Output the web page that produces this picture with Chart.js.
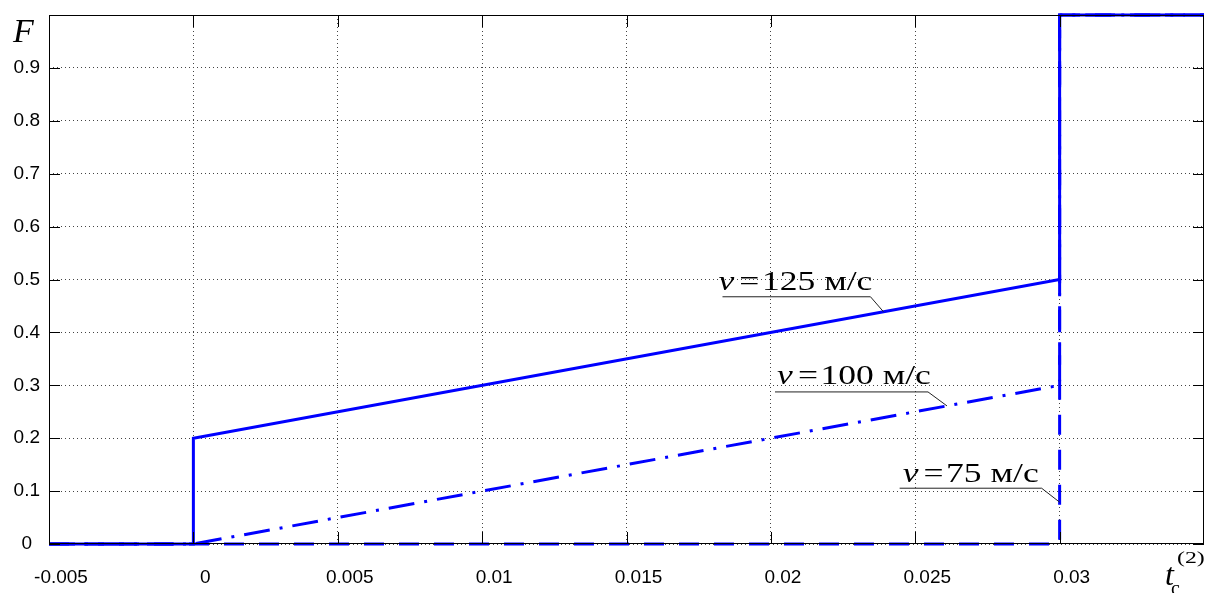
<!DOCTYPE html>
<html>
<head>
<meta charset="utf-8">
<script src="https://cdn.jsdelivr.net/npm/chart.js@4.4.1/dist/chart.umd.min.js"></script>
<style>
body { margin: 0; background: #fff; }
#wrap { width: 1206px; height: 593px; }
</style>
</head>
<body>
<div id="wrap"><canvas id="chart"></canvas></div>
<script>
// axis ticks
var xTickValues = [-0.005, 0, 0.005, 0.01, 0.015, 0.02, 0.025, 0.03];
var xTickLabels = ['-0.005', '0', '0.005', '0.01', '0.015', '0.02', '0.025', '0.03'];
var yTickValues = [0, 0.1, 0.2, 0.3, 0.4, 0.5, 0.6, 0.7, 0.8, 0.9, 1];
var yTickLabels = ['0', '0.1', '0.2', '0.3', '0.4', '0.5', '0.6', '0.7', '0.8', '0.9', ''];

// F(t) for v = 125 m/s
var t125 = [-0.005, 0, 0, 0.03, 0.03, 0.035];
var f125 = [0, 0, 0.2, 0.5, 1, 1];
// v = 100 m/s
var t100 = [-0.005, 0, 0.03, 0.03, 0.035];
var f100 = [0, 0, 0.3, 1, 1];
// v = 75 m/s
var t75 = [-0.005, 0.03, 0.03, 0.035];
var f75 = [0, 0, 1, 1];

var speeds = ['125', '100', '75'];
// where each label's leader touches its curve
var leaderT = [0.0239, 0.0261, 0.03];
var leaderF = [0.439, 0.261, 0.079];

function pts(xs, ys) {
    return xs.map(function(x, i) { return {x: x, y: ys[i]}; });
}

// pixel layout of the labels relative to the leader point
var labelBox = [
    {ex: -13, ey: -15, len: 148, tx: -165, ty: -7},
    {ex: -19, ey: -14, len: 153, tx: -170, ty: -8},
    {ex: -18, ey: -14, len: 142, tx: -157, ty: -6}
];

function drawSpeed(ctx, left, base, speed) {
    ctx.save();
    ctx.translate(left, base);
    ctx.scale(1.27, 1);
    ctx.fillStyle = '#000';
    ctx.textAlign = 'left';
    ctx.textBaseline = 'alphabetic';
    ctx.font = 'italic 28px "Liberation Serif"';
    ctx.fillText('v', 0, 0);
    var w = ctx.measureText('v').width + 4;
    ctx.font = '28px "Liberation Serif"';
    ctx.fillText('=', w, 0);
    w += ctx.measureText('=').width + 2;
    ctx.fillText(speed + ' м/с', w, 0);
    ctx.restore();
}

var decor = {
    id: 'decor',
    afterDraw: function(chart) {
        var ctx = chart.ctx, a = chart.chartArea;
        var xs = chart.scales.x, ys = chart.scales.y;
        ctx.save();
        ctx.strokeStyle = '#000';
        ctx.lineWidth = 1;
        ctx.strokeRect(a.left + 0.5, a.top + 0.5, a.right - a.left - 1, a.bottom - a.top - 1);
        ctx.beginPath();
        xTickValues.forEach(function(v) {
            var px = Math.round(xs.getPixelForValue(v)) + 0.5;
            ctx.moveTo(px, a.bottom); ctx.lineTo(px, a.bottom - 12);
            ctx.moveTo(px, a.top); ctx.lineTo(px, a.top + 12);
        });
        yTickValues.forEach(function(v) {
            var py = Math.round(ys.getPixelForValue(v)) + 0.5;
            ctx.moveTo(a.left, py); ctx.lineTo(a.left + 11, py);
            ctx.moveTo(a.right, py); ctx.lineTo(a.right - 11, py);
        });
        ctx.stroke();

        // speed labels with leaders
        speeds.forEach(function(s, i) {
            var b = labelBox[i];
            var px = xs.getPixelForValue(leaderT[i]);
            var py = ys.getPixelForValue(leaderF[i]);
            ctx.beginPath();
            ctx.strokeStyle = '#222';
            ctx.lineWidth = 1;
            ctx.moveTo(px, py);
            ctx.lineTo(px + b.ex, py + b.ey);
            ctx.lineTo(px + b.ex - b.len, py + b.ey);
            ctx.stroke();
            drawSpeed(ctx, px + b.tx, py + b.ey + b.ty, s);
        });

        // axis names
        ctx.fillStyle = '#000';
        ctx.textAlign = 'left';
        ctx.textBaseline = 'alphabetic';
        ctx.font = 'italic 34px "Liberation Serif"';
        ctx.fillText('F', a.left - 36, a.top + 27);
        ctx.font = 'italic 32px "Liberation Serif"';
        ctx.fillText('t', a.right - 39, a.bottom + 41);
        ctx.font = '20px "Liberation Serif"';
        ctx.fillText('c', a.right - 33, a.bottom + 51);
        ctx.save();
        ctx.translate(a.right - 27, a.bottom + 19);
        ctx.scale(1.4, 1);
        ctx.font = '17px "Liberation Serif"';
        ctx.fillText('(2)', 0, 0);
        ctx.restore();
        ctx.restore();
    }
};

var blue = '#0000ff';
var config = {
    type: 'line',
    data: {
        datasets: [
            {data: pts(t125, f125), borderColor: blue, borderWidth: 3, pointRadius: 0, fill: false, tension: 0, clip: 3},
            {data: pts(t100, f100), borderColor: blue, borderWidth: 3, borderDash: [26, 10, 3, 10], pointRadius: 0, fill: false, tension: 0, clip: 3},
            {data: pts(t75, f75), borderColor: blue, borderWidth: 3, borderDash: [20, 15], pointRadius: 0, fill: false, tension: 0, clip: 3}
        ]
    },
    options: {
        responsive: true,
        maintainAspectRatio: false,
        animation: false,
        layout: {padding: {top: 15, right: 2, left: 0, bottom: 0}},
        plugins: {legend: {display: false}, tooltip: {enabled: false}},
        scales: {
            x: {
                type: 'linear',
                min: -0.005,
                max: 0.035,
                afterBuildTicks: function(scale) {
                    scale.ticks = xTickValues.map(function(v) { return {value: v}; });
                },
                afterFit: function(scale) {
                    scale.height = 49;
                    scale.paddingLeft = 0;
                    scale.paddingRight = 0;
                },
                grid: {color: '#444', lineWidth: 1, drawTicks: false},
                border: {display: false, dash: [1, 3]},
                ticks: {
                    autoSkip: false,
                    maxRotation: 0,
                    padding: 22,
                    labelOffset: 12,
                    color: '#000',
                    font: {family: '"Liberation Sans"', size: 19},
                    callback: function(v, i) { return xTickLabels[i]; }
                }
            },
            y: {
                min: 0,
                max: 1,
                afterBuildTicks: function(scale) {
                    scale.ticks = yTickValues.map(function(v) { return {value: v}; });
                },
                afterFit: function(scale) {
                    scale.width = 49;
                    scale.paddingTop = 0;
                    scale.paddingBottom = 0;
                },
                grid: {color: '#444', lineWidth: 1, drawTicks: false},
                border: {display: false, dash: [1, 3]},
                ticks: {
                    padding: 9,
                    crossAlign: 'center',
                    color: '#000',
                    font: {family: '"Liberation Sans"', size: 19},
                    callback: function(v, i) { return yTickLabels[i]; }
                }
            }
        }
    },
    plugins: [decor]
};

var ctx = document.getElementById('chart').getContext('2d');
window.fChart = new Chart(ctx, config);
</script>
</body>
</html>
